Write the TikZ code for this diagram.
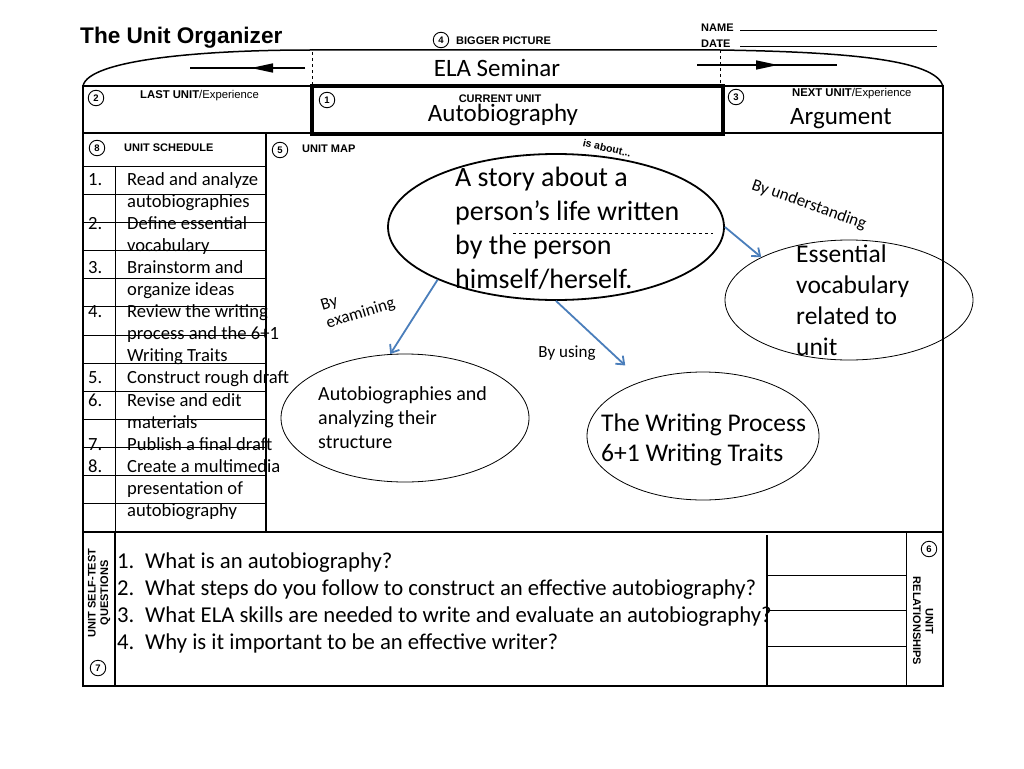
\documentclass[tikz,border=0pt]{standalone}
\usepackage{fontspec}
\setmainfont{Carlito}
\setsansfont{Liberation Sans}
\usetikzlibrary{shapes.geometric,arrows.meta}
\definecolor{mapblue}{RGB}{74,126,187}

\tikzset{
	frame/.style={line width=1.5pt},
	rule/.style={line width=0.8pt},
	numcirc/.style={draw,circle,line width=0.9pt,inner sep=0pt,minimum size=15.5pt,font=\sffamily\bfseries\fontsize{9.5}{9.5}\selectfont},
	headlbl/.style={font=\sffamily\bfseries\fontsize{11}{12.5}\selectfont,inner sep=0pt},
	bubble/.style={draw,ellipse,inner sep=0pt,line width=0.8pt},
	maparrow/.style={draw=mapblue,line width=1.8pt,-{Straight Barb[length=7pt,width=11pt]}},
	linklbl/.style={font=\fontsize{17}{19}\selectfont,inner sep=0pt},
	schedtext/.style={font=\fontsize{18.6}{22}\selectfont,inner sep=0pt,anchor=base west},
	pointer/.style={line width=1.5pt}
}

\begin{document}
\begin{tikzpicture}[x=1pt,y=-1pt]
	\useasboundingbox (0,0) rectangle (1024,768);
	\fill[white] (0,0) rectangle (1024,768);

	% heading
	\node[font=\sffamily\bfseries\fontsize{22.6}{26}\selectfont,anchor=west,inner sep=0pt] (title) at (80,38) {The Unit Organizer};
	\node[numcirc] (n4) at (441,40) {4};
	\node[headlbl,anchor=west] (bigger) at (456,41) {BIGGER PICTURE};
	\node[headlbl,anchor=west] (namelbl) at (701,28) {NAME};
	\node[headlbl,anchor=west] (datelbl) at (701,44) {DATE};
	\draw[rule] (740,30) -- (937,30);
	\draw[rule] (740,46) -- (937,46);

	% bigger picture arch
	\draw[frame] (83,86) .. controls (88,60) and (200,50) .. (310,50) -- (720,50) .. controls (850,52) and (935,60) .. (943,86);
	\draw[dashed,line width=0.7pt] (312,52) -- (312,86);
	\draw[dashed,line width=0.7pt] (720,44) -- (720,86);
	\coordinate (lastA) at (305,68);
	\coordinate (lastB) at (190,68);
	\coordinate (lastT) at (251,68);
	\draw[pointer] (lastA) -- (lastB);
	\draw[pointer,-{Triangle[length=22pt,width=9pt]}] (lastA) -- (lastT);
	\coordinate (nextA) at (697,65);
	\coordinate (nextB) at (837,65);
	\coordinate (nextT) at (778,65);
	\draw[pointer] (nextA) -- (nextB);
	\draw[pointer,-{Triangle[length=22pt,width=9pt]}] (nextA) -- (nextT);
	\node[font=\fontsize{25}{28}\selectfont,inner sep=0pt] (course) at (497,68) {ELA Seminar};

	% frame
	\draw[frame] (83,86) rectangle (943,686);
	\draw[frame] (83,133) -- (943,133);
	\draw[frame] (83,532) -- (943,532);
	\draw[frame] (266,133) -- (266,532);
	\draw[line width=3.5pt] (312,86) rectangle (723,134);

	% units row
	\node[numcirc] (n2) at (96,98) {2};
	\node[headlbl,anchor=west,font=\sffamily\fontsize{11.3}{12.5}\selectfont] (lastlbl) at (140,96) {\textbf{LAST UNIT}/Experience};
	\node[numcirc] (n1) at (327,100) {1};
	\node[headlbl] (curlbl) at (500,99) {CURRENT UNIT};
	\node[font=\fontsize{25}{28}\selectfont,inner sep=0pt] (curunit) at (503,115) {Autobiography};
	\node[numcirc] (n3) at (736,97) {3};
	\node[headlbl,anchor=west,font=\sffamily\fontsize{11.3}{12.5}\selectfont] (nextlbl) at (792,94) {\textbf{NEXT UNIT}/Experience};
	\node[font=\fontsize{25}{28}\selectfont,inner sep=0pt,anchor=west] (nextunit) at (790,119) {Argument};

	% unit schedule
	\node[numcirc] (n8) at (97,148) {8};
	\node[headlbl,anchor=west] (schedlbl) at (124,148) {UNIT SCHEDULE};
	\foreach \i in {0,...,12}
		\draw[rule] (83,166+28.15*\i) -- (266,166+28.15*\i);
	\draw[rule] (115,166) -- (115,532);
	\foreach \num/\txt [count=\i from 0] in {1./Read and analyze, /autobiographies, 2./Define essential, /vocabulary,
		3./Brainstorm and, /organize ideas, 4./Review the writing, /process and the 6+1, /Writing Traits,
		5./Construct rough draft, 6./Revise and edit, /materials, 7./Publish a final draft,
		8./Create a multimedia, /presentation of, /autobiography} {
		\node[schedtext] (num\i) at (88,185+22.1*\i) {\num};
		\node[schedtext] (item\i) at (127,185+22.1*\i) {\txt};
	}

	% unit map
	\node[numcirc] (n5) at (280,150) {5};
	\node[headlbl,anchor=west] (maplbl) at (302,149) {UNIT MAP};
	\node[bubble,line width=1.8pt,minimum width=336pt,minimum height=146pt] (story) at (556,227) {};
	\draw[dashed,line width=0.5pt] (513,233) -- (713,233);
	\node[font=\fontsize{28}{34}\selectfont,align=left,inner sep=0pt,anchor=west] (storytxt) at (455,228)
		{A story about a\\person’s life written\\by the person\\himself/herself.};
	\node[font=\sffamily\bfseries\fontsize{10.5}{11}\selectfont,inner sep=0pt,rotate=-13] (isabout) at (607,148) {is about...};

	\node[bubble,minimum width=248pt,minimum height=120pt] (vocab) at (849,300) {};
	\node[font=\fontsize{25.5}{31}\selectfont,align=left,inner sep=0pt,anchor=west] (vocabtxt) at (796,300)
		{Essential\\vocabulary\\related to\\unit};
	\node[bubble,minimum width=248pt,minimum height=128pt] (autob) at (405,418) {};
	\node[font=\fontsize{20}{24}\selectfont,align=left,inner sep=0pt,anchor=west] (autobtxt) at (318,418)
		{Autobiographies and\\analyzing their\\structure};
	\node[bubble,minimum width=232pt,minimum height=128pt] (process) at (703,436) {};
	\node[font=\fontsize{25.5}{30}\selectfont,align=left,inner sep=0pt,anchor=west] (processtxt) at (601,440)
		{The Writing Process\\6+1 Writing Traits};

	\draw[maparrow] (story.204) -- (autob.103);
	\draw[maparrow,shorten >=23pt] (story.south) -- (process.138);
	\draw[maparrow] (story.east) -- (vocab.154.5);
	\node[linklbl,align=left,rotate=17] (examining) at (358,305) {By\\examining};
	\node[linklbl] (using) at (567,353) {By using};
	\node[linklbl,rotate=-19.5] (understanding) at (809,205) {By understanding};

	% self-test questions
	\draw[frame] (115,532) -- (115,686);
	\node[headlbl,align=center,rotate=90] (testlbl) at (99,593) {UNIT SELF-TEST\\QUESTIONS};
	\node[numcirc] (n7) at (98,668) {7};
	\node[font=\fontsize{22.7}{27}\selectfont,align=left,inner sep=0pt,anchor=west] (questions) at (117,603)
		{\makebox[28pt][l]{1.}What is an autobiography?\\
		\makebox[28pt][l]{2.}What steps do you follow to construct an effective autobiography?\\
		\makebox[28pt][l]{3.}What ELA skills are needed to write and evaluate an autobiography?\\
		\makebox[28pt][l]{4.}Why is it important to be an effective writer?};

	% unit relationships
	\draw[line width=2pt] (767,535) -- (767,686);
	\draw[rule] (906,532) -- (906,686);
	\foreach \y in {575,610,646}
		\draw[rule] (767,\y) -- (906,\y);
	\node[numcirc] (n6) at (929,549) {6};
	\node[headlbl,align=center,rotate=-90] (rellbl) at (923,621) {UNIT\\RELATIONSHIPS};
\end{tikzpicture}
\end{document}
